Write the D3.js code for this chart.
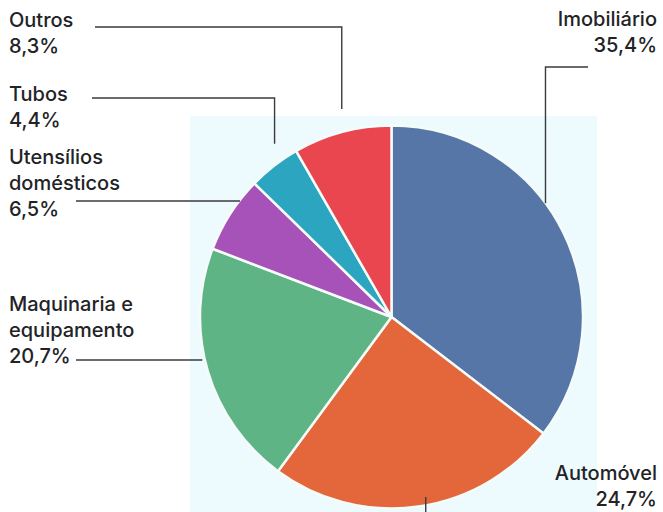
<!DOCTYPE html>
<html>
<head>
<meta charset="utf-8">
<script src="https://cdn.jsdelivr.net/npm/d3@7"></script>
<style>
  html, body { margin: 0; padding: 0; background: #ffffff; }
  svg { display: block; }
  .lbl { font-family: Inter, "Open Sans", sans-serif; font-weight: 500; font-size: 20px; fill: #222326; }
</style>
</head>
<body>
<svg id="chart" width="663" height="512"></svg>
<script>
// Sector shares (%), clockwise from 12 o'clock
const categories = ["Imobiliário", "Automóvel", "Maquinaria e equipamento", "Utensílios domésticos", "Tubos", "Outros"];
const shares = [35.4, 24.7, 20.7, 6.5, 4.4, 8.3];
const colors = ["#5576a7", "#e3673a", "#5eb485", "#a752b8", "#2ba5c0", "#e9464f"];

// Label text lines (name split over lines)
const nameLines = [["Imobiliário"], ["Automóvel"], ["Maquinaria e", "equipamento"], ["Utensílios", "domésticos"], ["Tubos"], ["Outros"]];

const width = 663, height = 512;
const cx = 391.5, cy = 317, R = 191.5;

const svg = d3.select("#chart");

// pale panel behind the pie
svg.append("rect")
  .attr("x", 190).attr("y", 116)
  .attr("width", 407).attr("height", height - 116)
  .attr("fill", "#eefbfe");

const pie = d3.pie().sort(null).value(d => d)(shares);
const arc = d3.arc().innerRadius(0).outerRadius(R);

const g = svg.append("g").attr("transform", `translate(${cx},${cy})`);
g.selectAll("path.slice")
  .data(pie)
  .join("path")
  .attr("class", "slice")
  .attr("d", arc)
  .attr("fill", (d, i) => colors[i])
  .attr("stroke", "#f4fbf8")
  .attr("stroke-width", 2.5)
  .attr("stroke-linejoin", "round");

// Label placement: text anchor, baseline of first line, leader attachment
// t = fraction through the slice's angle, rf = radius factor for the leader's pie end,
// ly = y of the horizontal leader segment, lx = x where the leader starts near the text
const layout = [
  { x: 657, y: 26, anchor: "end",   t: 0.42, rf: 1.0,   lx: 588, ly: 67 },
  { x: 657, y: 480, anchor: "end",  t: 0.47, rf: 0.957, kind: "vertical" },
  { x: 9,   y: 311, anchor: "start", t: 0.60, rf: 1.0,  lx: 76, ly: 360, kind: "flat" },
  { x: 9,   y: 164, anchor: "start", t: 0.89, rf: 1.06, lx: 76, ly: 201, kind: "flat" },
  { x: 9,   y: 101, anchor: "start", t: 0.74, rf: 1.092, lx: 92, ly: 98 },
  { x: 9,   y: 27,  anchor: "start", t: 0.55, rf: 1.117, lx: 95, ly: 27 }
];

const fmt = d3.formatLocale({ decimal: ",", thousands: ".", grouping: [3], currency: ["", "€"] }).format(".1f");
const lineH = 26;

// leader lines
pie.forEach((d, i) => {
  const L = layout[i];
  const a = d.startAngle + L.t * (d.endAngle - d.startAngle);
  const [px, py] = d3.pointRadial(a, R * L.rf);
  const ex = cx + px, ey = cy + py;
  let pts;
  if (L.kind === "vertical") {
    pts = [[ex, ey], [ex, height]];
  } else if (L.kind === "flat") {
    pts = [[L.lx, L.ly], [ex, L.ly]];
  } else {
    pts = [[L.lx, L.ly], [ex, L.ly], [ex, ey]];
  }
  svg.append("path")
    .attr("d", d3.line()(pts))
    .attr("fill", "none")
    .attr("stroke", "#3a3b3f")
    .attr("stroke-width", 1.4);
});

// labels
pie.forEach((d, i) => {
  const L = layout[i];
  const lines = nameLines[i].concat([fmt(shares[i]) + "%"]);
  const t = svg.append("text")
    .attr("class", "lbl")
    .attr("text-anchor", L.anchor);
  lines.forEach((s, k) => {
    t.append("tspan").attr("x", L.x).attr("y", L.y + k * lineH).text(s);
  });
});
</script>
</body>
</html>
